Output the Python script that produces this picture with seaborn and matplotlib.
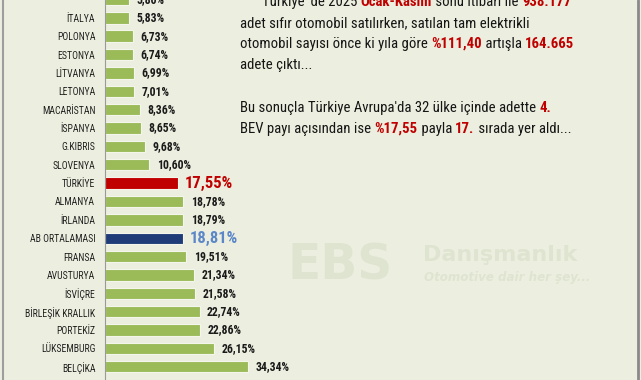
import numpy as np
import pandas as pd
import seaborn as sns
import matplotlib.pyplot as plt
from matplotlib import font_manager
from matplotlib.lines import Line2D

countries = ["YUNANİSTAN", "İTALYA", "POLONYA", "ESTONYA", "LİTVANYA", "LETONYA",
             "MACARİSTAN", "İSPANYA", "G.KIBRIS", "SLOVENYA", "TÜRKİYE", "ALMANYA",
             "İRLANDA", "AB ORTALAMASI", "FRANSA", "AVUSTURYA", "İSVİÇRE",
             "BİRLEŞİK KRALLIK", "PORTEKİZ", "LÜKSEMBURG", "BELÇİKA"]
bev_share = [5.80, 5.83, 6.73, 6.74, 6.99, 7.01, 8.36, 8.65, 9.68, 10.60, 17.55,
             18.78, 18.79, 18.81, 19.51, 21.34, 21.58, 22.74, 22.86, 26.15, 34.34]

text_lines = [
    [("Türkiye 'de 2025 ", False), ("Ocak-Kasım", True), (" sonu itibari ile ", False), ("938.177", True)],
    [("adet sıfır otomobil satılırken, satılan tam elektrikli", False)],
    [("otomobil sayısı önce ki yıla göre ", False), ("%111,40", True), (" artışla ", False), ("164.665", True)],
    [("adete çıktı...", False)],
    [("", False)],
    [("Bu sonuçla Türkiye Avrupa'da 32 ülke içinde adette ", False), ("4.", True)],
    [("BEV payı açısından ise ", False), ("%17,55", True), (" payla ", False), ("17.", True), (" sırada yer aldı...", False)],
]

BG = "#ECEFDF"
GREEN = "#9BBB59"
RED = "#C00000"
NAVY = "#1F3C78"
LIGHTBLUE = "#5B87C8"
WM = "#DFE4D1"

installed = {f.name for f in font_manager.fontManager.ttflist}
FONT = "DejaVu Sans"
for cand in ["Roboto Condensed", "Liberation Sans Narrow", "Open Sans Condensed", "DejaVu Sans"]:
    if cand in installed:
        FONT = cand
        break

sns.set_style("white")
plt.rcParams["font.family"] = [FONT, "DejaVu Sans"]

df = pd.DataFrame({"country": countries, "share": bev_share})
palette = {c: GREEN for c in countries}
palette["TÜRKİYE"] = RED
palette["AB ORTALAMASI"] = NAVY

fig = plt.figure(figsize=(6.41, 3.80), dpi=100, facecolor=BG)
ax = fig.add_axes([105 / 641, 0, 532 / 641, 1])
ax.set_facecolor("none")

sns.barplot(data=df, x="share", y="country", hue="country", palette=palette,
            legend=False, orient="h", width=0.62, saturation=1, edgecolor="#F4F6EC",
            linewidth=0.8, ax=ax)

ax.set_xlim(0, 532 / 4.16)
ax.set_ylim(20.72, 0.03)
ax.set_xlabel("")
ax.set_ylabel("")
ax.set_xticks([])
for s in ["top", "right", "bottom"]:
    ax.spines[s].set_visible(False)
ax.spines["left"].set_color("#9A9A9A")
ax.spines["left"].set_linewidth(0.8)
ax.tick_params(axis="y", which="major", length=0, pad=7, labelsize=7, labelcolor="#222222")
ax.set_yticks(np.arange(len(countries)) + 0.5, minor=True)
ax.tick_params(axis="y", which="minor", length=3, color="#9A9A9A", width=0.8)

for i, (c, v) in enumerate(zip(countries, bev_share)):
    lbl = f"{v:.2f}".replace(".", ",") + "%"
    if c == "TÜRKİYE":
        ax.text(v + 1.6, i, lbl, va="center", ha="left", fontsize=12, fontweight="bold", color=RED)
    elif c == "AB ORTALAMASI":
        ax.text(v + 1.6, i, lbl, va="center", ha="left", fontsize=12, fontweight="bold", color=LIGHTBLUE)
    else:
        ax.text(v + 1.8, i, lbl, va="center", ha="left", fontsize=8.5, fontweight="bold", color="#1A1A1A")

# overlay in pixel units for the text block and watermark
ov = fig.add_axes([0, 0, 1, 1], zorder=3)
ov.set_xlim(0, 641)
ov.set_ylim(380, 0)
ov.axis("off")

ov.text(288, 266, "EBS", fontsize=35, fontweight="heavy", color=WM, va="center", ha="left",
        family="DejaVu Sans")
ov.text(423, 255, "Danışmanlık", fontsize=16, fontweight="bold", color=WM, va="center", ha="left",
        family="DejaVu Sans")
ov.text(424, 278, "Otomotive dair her şey...", fontsize=8.6, fontweight="bold", fontstyle="italic",
        color=WM, va="center", ha="left", family="DejaVu Sans")

line_y = [2, 23, 44, 65, 86, 108, 129]
for k, parts in enumerate(text_lines):
    x0 = 262 if k == 0 else 240
    prev = None
    for s, hl in parts:
        kw = dict(fontsize=10.6, color=RED if hl else "#151515",
                  fontweight="bold" if hl else "normal", va="center", ha="left")
        if prev is None:
            prev = ov.text(x0, line_y[k], s, **kw)
        else:
            prev = ov.annotate(s, xy=(1, 0.5), xycoords=prev, annotation_clip=False, **kw)

fig.add_artist(Line2D([2.5 / 641, 2.5 / 641], [0, 1], color="#9E9E9E", lw=1.5))
fig.add_artist(Line2D([637.5 / 641, 637.5 / 641], [0, 1], color="#8A8A8A", lw=2))

fig.savefig("out.png", dpi=100, facecolor=BG)
